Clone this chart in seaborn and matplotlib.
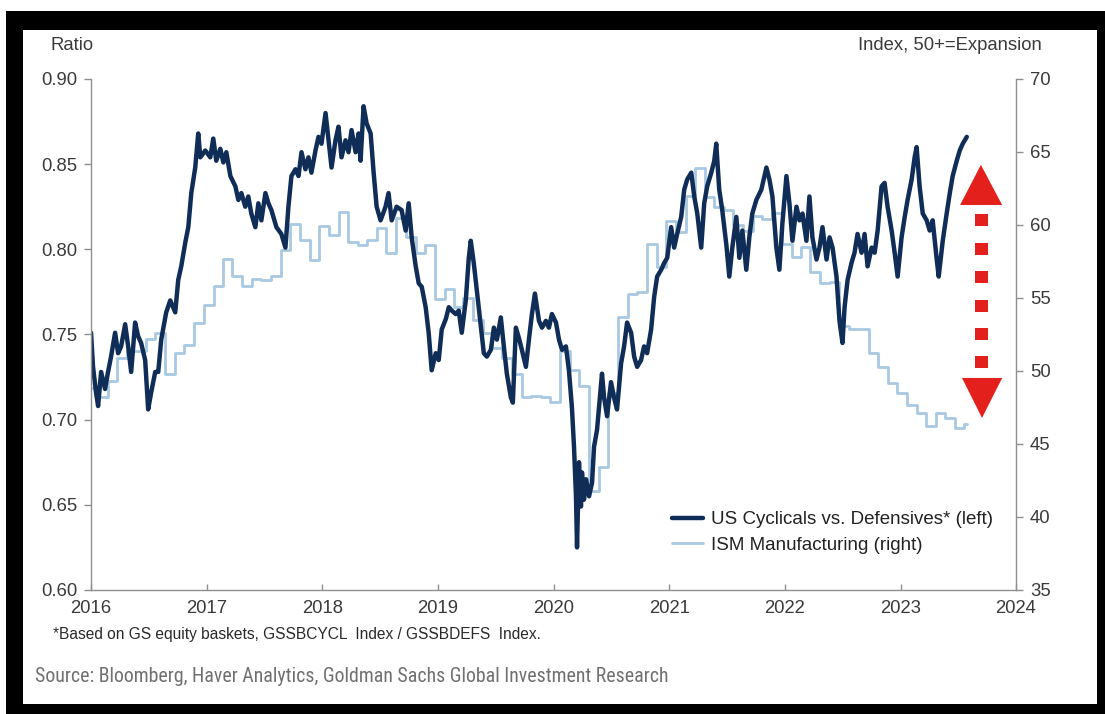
import numpy as np
import pandas as pd
import matplotlib
matplotlib.use("Agg")
import matplotlib.pyplot as plt
import seaborn as sns
from matplotlib.patches import Rectangle, Polygon
from matplotlib import font_manager as fm

# ---------------- data ----------------
# US Cyclicals vs. Defensives ratio (left axis), decimal-year dates
cyc_t = [
    2016.000, 2016.017, 2016.043, 2016.061, 2016.087, 2016.121, 2016.147, 2016.173, 2016.208, 2016.234,
    2016.260, 2016.295, 2016.321, 2016.347, 2016.381, 2016.407, 2016.433, 2016.468, 2016.494, 2016.520,
    2016.555, 2016.581, 2016.607, 2016.650, 2016.685, 2016.728, 2016.754, 2016.780, 2016.815, 2016.841,
    2016.867, 2016.901, 2016.927, 2016.945, 2016.988, 2017.031, 2017.057, 2017.083, 2017.118, 2017.144,
    2017.170, 2017.205, 2017.248, 2017.274, 2017.300, 2017.334, 2017.360, 2017.386, 2017.421, 2017.447,
    2017.473, 2017.508, 2017.534, 2017.560, 2017.603, 2017.646, 2017.681, 2017.707, 2017.733, 2017.768,
    2017.794, 2017.820, 2017.854, 2017.880, 2017.906, 2017.941, 2017.967, 2017.993, 2018.028, 2018.054,
    2018.080, 2018.114, 2018.140, 2018.166, 2018.201, 2018.227, 2018.253, 2018.288, 2018.314, 2018.331,
    2018.357, 2018.383, 2018.418, 2018.444, 2018.470, 2018.504, 2018.547, 2018.573, 2018.600, 2018.643,
    2018.686, 2018.721, 2018.747, 2018.773, 2018.808, 2018.834, 2018.860, 2018.894, 2018.920, 2018.946,
    2018.981, 2019.007, 2019.033, 2019.068, 2019.094, 2019.120, 2019.154, 2019.180, 2019.206, 2019.241,
    2019.267, 2019.284, 2019.310, 2019.336, 2019.371, 2019.397, 2019.423, 2019.458, 2019.484, 2019.510,
    2019.544, 2019.570, 2019.596, 2019.631, 2019.648, 2019.674, 2019.700, 2019.726, 2019.761, 2019.787,
    2019.813, 2019.839, 2019.874, 2019.900, 2019.934, 2019.960, 2019.986, 2020.021, 2020.047, 2020.073,
    2020.107, 2020.133, 2020.159, 2020.177, 2020.194, 2020.203, 2020.220, 2020.237, 2020.246, 2020.263,
    2020.281, 2020.307, 2020.333, 2020.350, 2020.376, 2020.393, 2020.419, 2020.437, 2020.463, 2020.497,
    2020.523, 2020.549, 2020.584, 2020.610, 2020.636, 2020.671, 2020.697, 2020.723, 2020.757, 2020.783,
    2020.809, 2020.844, 2020.870, 2020.896, 2020.931, 2020.957, 2020.983, 2021.017, 2021.043, 2021.069,
    2021.104, 2021.130, 2021.156, 2021.191, 2021.217, 2021.243, 2021.277, 2021.303, 2021.329, 2021.364,
    2021.390, 2021.407, 2021.433, 2021.459, 2021.494, 2021.520, 2021.546, 2021.581, 2021.607, 2021.633,
    2021.667, 2021.693, 2021.719, 2021.754, 2021.797, 2021.841, 2021.867, 2021.893, 2021.927, 2021.953,
    2021.979, 2022.014, 2022.040, 2022.066, 2022.101, 2022.127, 2022.153, 2022.187, 2022.213, 2022.239,
    2022.274, 2022.300, 2022.326, 2022.361, 2022.387, 2022.413, 2022.447, 2022.473, 2022.499, 2022.517,
    2022.543, 2022.577, 2022.603, 2022.629, 2022.664, 2022.690, 2022.716, 2022.751, 2022.777, 2022.803,
    2022.837, 2022.863, 2022.889, 2022.924, 2022.950, 2022.976, 2023.010, 2023.037, 2023.062, 2023.097,
    2023.123, 2023.140, 2023.166, 2023.193, 2023.227, 2023.253, 2023.279, 2023.314, 2023.331, 2023.366,
    2023.400, 2023.427, 2023.452, 2023.487, 2023.513, 2023.539, 2023.574,
]
cyc_v = [
    0.751, 0.731, 0.716, 0.708, 0.728, 0.718, 0.728, 0.737, 0.751, 0.739,
    0.743, 0.756, 0.743, 0.728, 0.757, 0.749, 0.745, 0.735, 0.706, 0.716,
    0.728, 0.728, 0.747, 0.763, 0.770, 0.763, 0.782, 0.790, 0.804, 0.813,
    0.833, 0.848, 0.868, 0.854, 0.858, 0.854, 0.865, 0.852, 0.859, 0.851,
    0.857, 0.843, 0.837, 0.829, 0.833, 0.825, 0.831, 0.821, 0.813, 0.827,
    0.817, 0.833, 0.827, 0.823, 0.813, 0.809, 0.801, 0.825, 0.843, 0.847,
    0.843, 0.857, 0.847, 0.854, 0.845, 0.858, 0.866, 0.862, 0.880, 0.864,
    0.848, 0.864, 0.872, 0.854, 0.864, 0.857, 0.870, 0.857, 0.868, 0.852,
    0.884, 0.874, 0.868, 0.845, 0.825, 0.817, 0.825, 0.833, 0.817, 0.825,
    0.823, 0.811, 0.827, 0.807, 0.790, 0.780, 0.778, 0.766, 0.751, 0.729,
    0.739, 0.735, 0.753, 0.759, 0.766, 0.764, 0.762, 0.764, 0.751, 0.770,
    0.795, 0.805, 0.792, 0.776, 0.754, 0.739, 0.737, 0.741, 0.754, 0.747,
    0.760, 0.743, 0.727, 0.713, 0.710, 0.754, 0.748, 0.741, 0.731, 0.747,
    0.762, 0.774, 0.758, 0.754, 0.758, 0.754, 0.762, 0.757, 0.747, 0.741,
    0.743, 0.729, 0.707, 0.684, 0.655, 0.625, 0.675, 0.649, 0.669, 0.653,
    0.665, 0.655, 0.663, 0.684, 0.694, 0.707, 0.727, 0.713, 0.702, 0.722,
    0.713, 0.706, 0.733, 0.743, 0.757, 0.751, 0.737, 0.731, 0.735, 0.743,
    0.739, 0.753, 0.772, 0.784, 0.788, 0.792, 0.795, 0.813, 0.801, 0.809,
    0.819, 0.835, 0.841, 0.845, 0.831, 0.821, 0.801, 0.827, 0.837, 0.845,
    0.852, 0.862, 0.835, 0.823, 0.803, 0.784, 0.801, 0.819, 0.795, 0.811,
    0.788, 0.807, 0.821, 0.829, 0.835, 0.848, 0.841, 0.831, 0.801, 0.788,
    0.815, 0.843, 0.827, 0.805, 0.825, 0.817, 0.821, 0.805, 0.831, 0.807,
    0.794, 0.801, 0.813, 0.794, 0.807, 0.801, 0.784, 0.758, 0.745, 0.766,
    0.782, 0.792, 0.798, 0.809, 0.798, 0.809, 0.790, 0.801, 0.798, 0.811,
    0.837, 0.839, 0.825, 0.811, 0.798, 0.784, 0.807, 0.819, 0.829, 0.841,
    0.854, 0.860, 0.837, 0.821, 0.817, 0.811, 0.817, 0.794, 0.784, 0.805,
    0.821, 0.833, 0.843, 0.852, 0.858, 0.862, 0.866,
]

# ISM Manufacturing (right axis), monthly from Dec 2015
ism_first_month = "2015-12-01"
ism_end = "2023-07-29"
ism_v = [
    48.8,
    48.2, 49.3, 50.9, 51.4, 51.4, 52.2, 52.6, 49.8, 51.2, 51.8, 53.3, 54.5,
    55.8, 57.7, 56.5, 55.8, 56.3, 56.2, 56.5, 58.3, 60.1, 59.0, 57.6, 59.9,
    59.3, 60.9, 58.8, 58.6, 59.0, 59.8, 58.1, 60.5, 59.2, 58.1, 58.6, 54.9,
    55.6, 54.4, 55.0, 53.5, 52.6, 51.6, 50.9, 49.8, 48.2, 48.3, 48.2, 47.9,
    51.4, 50.1, 49.0, 41.8, 43.4, 48.5, 53.7, 55.3, 55.4, 58.7, 57.1, 60.3,
    59.5, 62.0, 63.9, 61.9, 61.2, 61.0, 60.0, 59.6, 60.6, 60.4, 60.8, 58.7,
    57.8, 58.5, 56.8, 56.0, 56.1, 53.1, 52.9, 52.9, 51.2, 50.3, 49.2, 48.5,
    47.7, 47.1, 46.2, 47.1, 46.8, 46.1, 46.4,
]

year_ticks = list(range(2016, 2025))
left_ticks = [0.60, 0.65, 0.70, 0.75, 0.80, 0.85, 0.90]
right_ticks = [35, 40, 45, 50, 55, 60, 65, 70]

label_cyc = "US Cyclicals vs. Defensives* (left)"
label_ism = "ISM Manufacturing (right)"

# ---------------- styling ----------------
sns.set_theme(style="white")
plt.rcParams["font.family"] = ["Liberation Sans", "DejaVu Sans"]

# look for a condensed / narrow face for the source line
cond_file = None
for f in fm.fontManager.ttflist:
    nm = (f.name + " " + f.fname).lower()
    if ("narrow" in nm or "condensed" in nm) and "bold" not in nm and "oblique" not in nm \
            and "italic" not in nm and "light" not in nm:
        cond_file = f.fname
        if "liberation" in nm:
            break
if cond_file:
    src_prop = fm.FontProperties(fname=cond_file)
    src_size = 14.3
else:
    src_prop = fm.FontProperties(family=["Liberation Sans", "DejaVu Sans"])
    src_size = 12.4
note_prop = fm.FontProperties(family=["Liberation Sans", "DejaVu Sans"])

DARK = "#0f2d57"
LIGHT = "#a9c9e2"
RED = "#e3201b"
SPINE = "#8f8f8f"
TXT = "#3a3a3a"

def to_date(t):
    t = np.asarray(t, dtype=float)
    return pd.Timestamp("2016-01-01") + pd.to_timedelta((t - 2016.0) * 365.25, unit="D")

cyc = pd.DataFrame({"date": to_date(cyc_t), "ratio": cyc_v})
ism_dates = pd.date_range(ism_first_month, periods=len(ism_v), freq="MS") + pd.Timedelta(days=21)
ism = pd.DataFrame({"date": list(ism_dates) + [pd.Timestamp(ism_end)],
                    "ism": list(ism_v) + [ism_v[-1]]})

fig = plt.figure(figsize=(11.05, 7.14), dpi=100, facecolor="black")
fig.patches.append(Rectangle((0.0208, 0.014), 0.9719, 0.944, transform=fig.transFigure,
                             facecolor="white", edgecolor="none", zorder=-5))
fig.patches.append(Rectangle((0, 0.9846), 1, 0.0154, transform=fig.transFigure,
                             facecolor="white", edgecolor="none", zorder=-5))
fig.patches.append(Rectangle((0, 0), 0.0054, 1, transform=fig.transFigure,
                             facecolor="white", edgecolor="none", zorder=-5))

ax = fig.add_axes([0.0824, 0.1737, 0.8371, 0.7157])
ax2 = ax.twinx()

sns.lineplot(data=ism, x="date", y="ism", ax=ax2, color=LIGHT, linewidth=2.0,
             drawstyle="steps-post", estimator=None, legend=False)
sns.lineplot(data=cyc, x="date", y="ratio", ax=ax, color=DARK, linewidth=3.2,
             estimator=None, legend=False)

ax.set_zorder(ax2.get_zorder() + 1)
ax.patch.set_visible(False)

ax.set_xlim(pd.Timestamp("2016-01-01"), pd.Timestamp("2024-01-01"))
ax.set_ylim(left_ticks[0], left_ticks[-1])
ax2.set_ylim(right_ticks[0], right_ticks[-1])
ax.set_xticks([pd.Timestamp(f"{y}-01-01") for y in year_ticks])
ax.set_xticklabels([str(y) for y in year_ticks])
ax.set_yticks(left_ticks)
ax.set_yticklabels([f"{v:.2f}" for v in left_ticks])
ax2.set_yticks(right_ticks)
ax2.set_yticklabels([str(v) for v in right_ticks])
for a in (ax, ax2):
    a.set_xlabel("")
    a.set_ylabel("")
    a.grid(False)

for side in ("top", "right"):
    ax.spines[side].set_visible(False)
for side in ("top", "left", "bottom"):
    ax2.spines[side].set_visible(False)
for sp in (ax.spines["left"], ax.spines["bottom"], ax2.spines["right"]):
    sp.set_visible(True)
    sp.set_color(SPINE)
    sp.set_linewidth(1.0)

ax.tick_params(axis="y", left=True, direction="out", length=5, width=1, color=SPINE,
               labelsize=13.3, labelcolor=TXT, pad=5)
ax.tick_params(axis="x", bottom=True, direction="in", length=4, width=1, color=SPINE,
               labelsize=13.3, labelcolor=TXT, pad=7)
ax2.tick_params(axis="y", right=True, direction="out", length=5, width=1, color=SPINE,
                labelsize=13.3, labelcolor=TXT, pad=5)

leg = ax.legend([ax.lines[0], ax2.lines[0]], [label_cyc, label_ism],
                loc="center left", bbox_to_anchor=(0.628, 0.1125), frameon=False,
                fontsize=13.5, handlelength=1.65, handletextpad=0.45,
                labelspacing=0.45, borderpad=0, borderaxespad=0)
for t in leg.get_texts():
    t.set_color("#222222")

# red double-headed dotted arrow (annotation)
tr = ax.transAxes
ax.add_patch(Polygon([(0.962, 0.832), (0.9395, 0.7534), (0.985, 0.7534)], closed=True,
                     transform=tr, facecolor=RED, edgecolor="none", zorder=10, clip_on=False))
ax.add_patch(Polygon([(0.9416, 0.4149), (0.985, 0.4149), (0.9632, 0.3366)], closed=True,
                     transform=tr, facecolor=RED, edgecolor="none", zorder=10, clip_on=False))
for yc in (0.7241, 0.6673, 0.6125, 0.5558, 0.5010, 0.4462):
    ax.add_patch(Rectangle((0.9627 - 0.00703, yc - 0.01174), 0.01405, 0.02348, transform=tr,
                           facecolor=RED, edgecolor="none", zorder=10, clip_on=False))

fig.text(50 / 1105, 1 - 46 / 714, "Ratio", ha="left", va="center", fontsize=13.3, color=TXT)
fig.text(1042 / 1105, 1 - 45 / 714, "Index, 50+=Expansion", ha="right", va="center",
         fontsize=13.3, color=TXT)
fig.text(53 / 1105, 1 - 634 / 714,
         "*Based on GS equity baskets, GSSBCYCL  Index / GSSBDEFS  Index.",
         ha="left", va="center", fontproperties=note_prop, fontsize=11.2, color="#2a2a2a")
fig.text(35 / 1105, 1 - 677 / 714,
         "Source: Bloomberg, Haver Analytics, Goldman Sachs Global Investment Research",
         ha="left", va="center", fontproperties=src_prop, fontsize=src_size, color="#707070")

fig.savefig("out.png", dpi=100, facecolor=fig.get_facecolor())
